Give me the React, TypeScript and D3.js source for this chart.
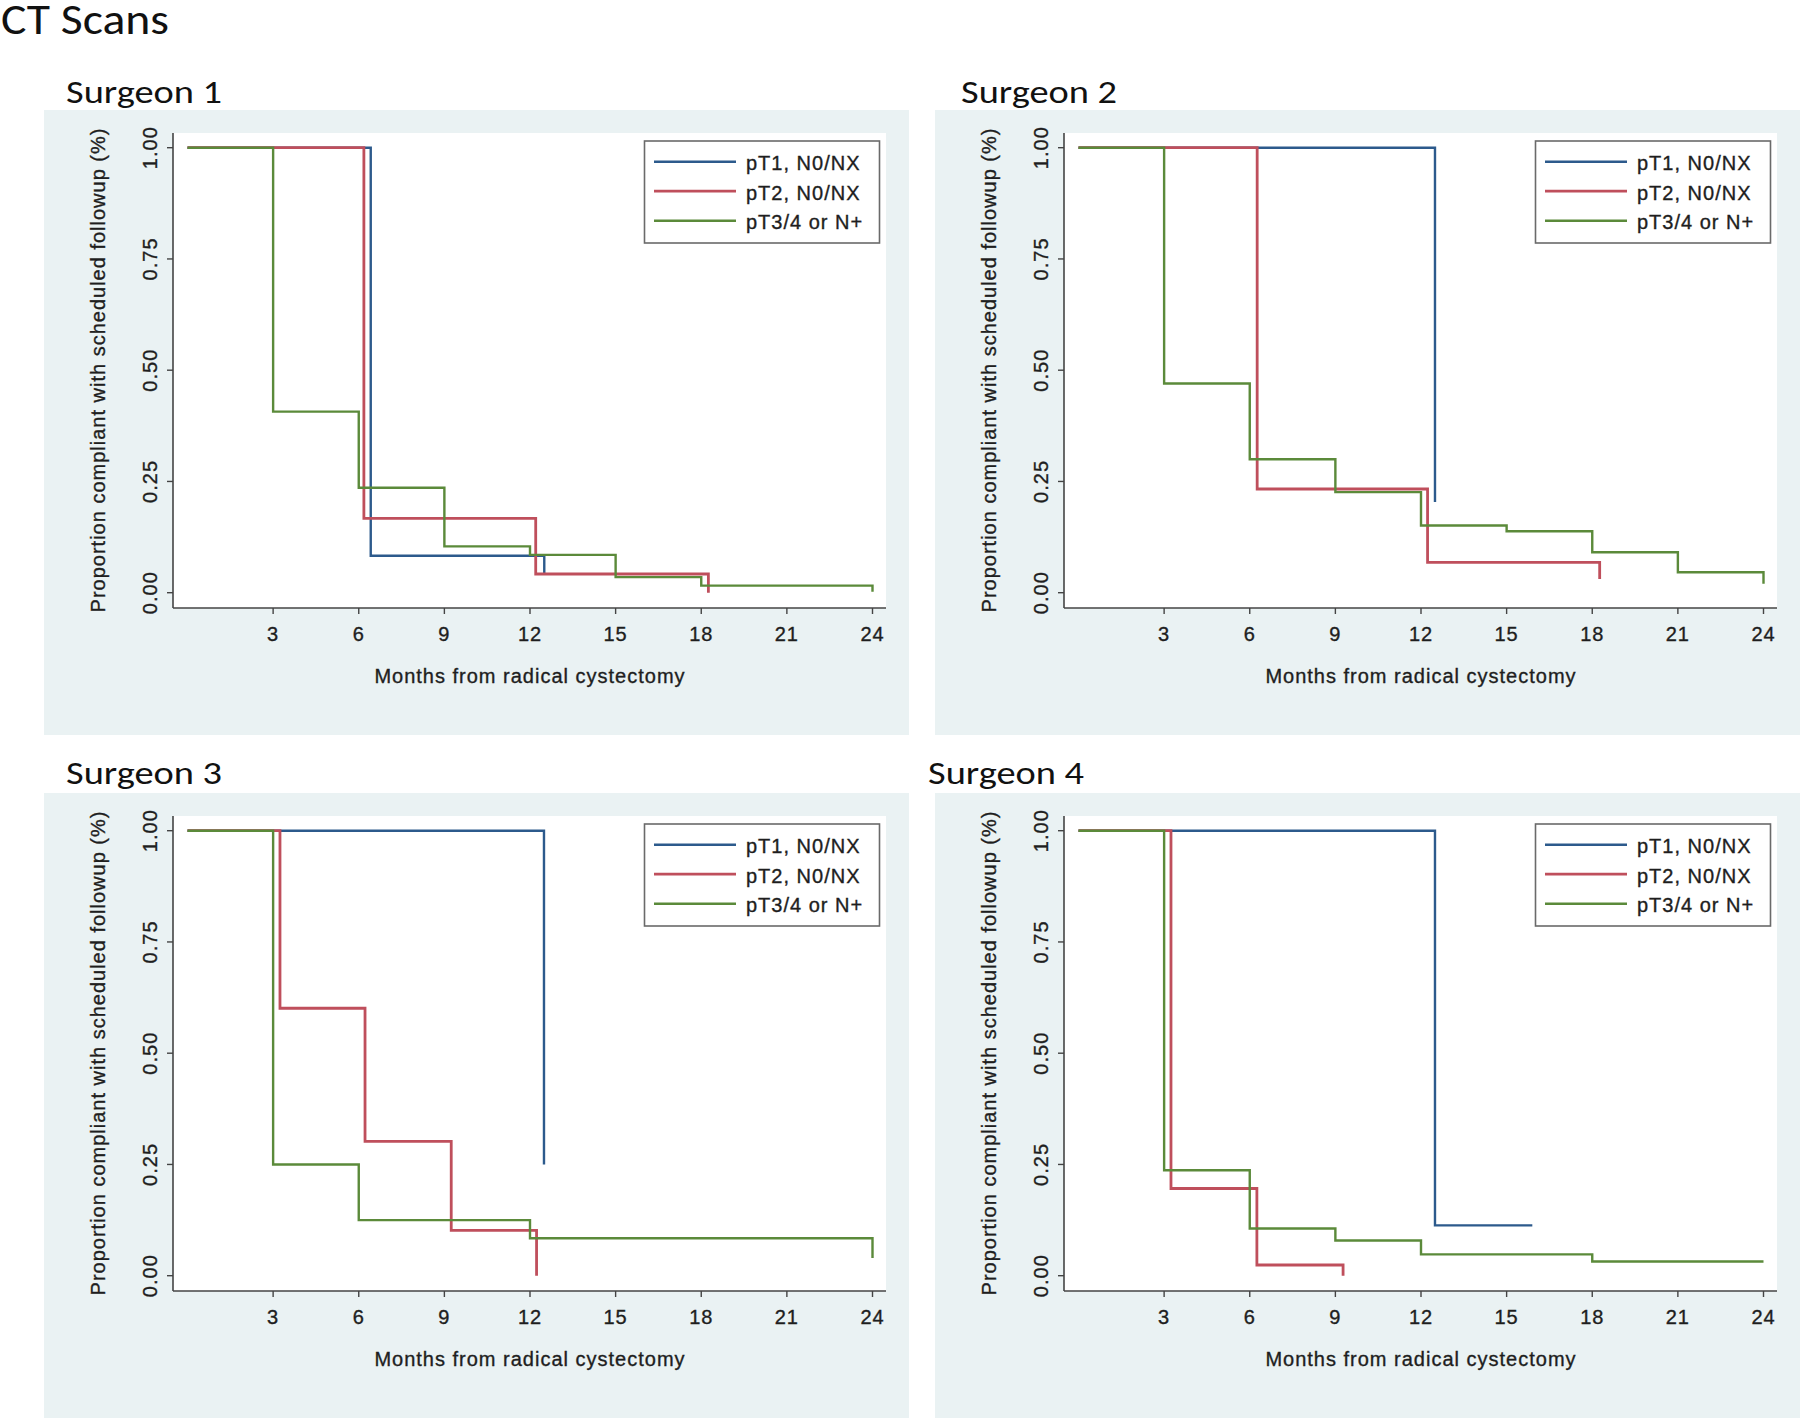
import React from "react";
import * as d3 from "d3";

// ---------- data ----------
const seriesNames = ["pT1, N0/NX", "pT2, N0/NX", "pT3/4 or N+"];
const seriesColors = ["#2c5a8c", "#bf4f5c", "#5b8a3a"];
const panelTitles = ["Surgeon 1", "Surgeon 2", "Surgeon 3", "Surgeon 4"];
const xTicks = [3, 6, 9, 12, 15, 18, 21, 24];
const yTicks = [0, 0.25, 0.5, 0.75, 1];
const yTickLabels = ["0.00", "0.25", "0.50", "0.75", "1.00"];

// Surgeon 1
const s1T1Time = [0, 6.42, 12.5];
const s1T1Surv = [1, 0.083, 0.04];
const s1T2Time = [0, 6.18, 12.2, 18.25];
const s1T2Surv = [1, 0.167, 0.042, 0.0];
const s1T3Time = [0, 3, 6, 9, 12, 15, 18, 24];
const s1T3Surv = [1, 0.407, 0.236, 0.104, 0.085, 0.035, 0.016, 0.002];

// Surgeon 2
const s2T1Time = [0, 12.49];
const s2T1Surv = [1, 0.204];
const s2T2Time = [0, 6.26, 12.23, 18.26];
const s2T2Surv = [1, 0.233, 0.068, 0.031];
const s2T3Time = [0, 3, 6, 9, 12, 15, 18, 21, 24];
const s2T3Surv = [1, 0.47, 0.3, 0.226, 0.151, 0.138, 0.091, 0.046, 0.02];

// Surgeon 3
const s3T1Time = [0, 12.49];
const s3T1Surv = [1, 0.25];
const s3T2Time = [0, 3.24, 6.22, 9.24, 12.23];
const s3T2Surv = [1, 0.601, 0.302, 0.102, 0.0];
const s3T3Time = [0, 3, 6, 12, 24];
const s3T3Surv = [1, 0.25, 0.125, 0.084, 0.04];

// Surgeon 4
const s4T1Time = [0, 12.49, 15.9];
const s4T1Surv = [1, 0.113, 0.113];
const s4T2Time = [0, 3.24, 6.25, 9.27];
const s4T2Surv = [1, 0.196, 0.024, 0.0];
const s4T3Time = [0, 3, 6, 9, 12, 18, 24];
const s4T3Surv = [1, 0.237, 0.106, 0.079, 0.048, 0.032, 0.032];

const panelData = [
  [[s1T1Time, s1T1Surv], [s1T2Time, s1T2Surv], [s1T3Time, s1T3Surv]],
  [[s2T1Time, s2T1Surv], [s2T2Time, s2T2Surv], [s2T3Time, s2T3Surv]],
  [[s3T1Time, s3T1Surv], [s3T2Time, s3T2Surv], [s3T3Time, s3T3Surv]],
  [[s4T1Time, s4T1Surv], [s4T2Time, s4T2Surv], [s4T3Time, s4T3Surv]],
];

// ---------- layout ----------
const panelOffsets = [
  { dx: 0, dy: 0, tx: 66, ty: 103 },
  { dx: 891, dy: 0, tx: 961, ty: 103 },
  { dx: 0, dy: 683, tx: 66, ty: 784 },
  { dx: 891, dy: 683, tx: 928, ty: 784 },
];

const AX = "Liberation Sans, Arial, sans-serif";
const TITLEF = "Carlito, Lato, sans-serif";
const TXT = "#1e1e1e";
const textStroke = { stroke: "#1e1e1e", strokeWidth: 0.35 };

function Panel({ idx }: { idx: number }) {
  const off = panelOffsets[idx];
  const x = d3.scaleLinear().domain([0, 24]).range([187.5, 872.5]);
  const y = d3.scaleLinear().domain([0, 1]).range([592.7, 147.7]);
  const line = d3
    .line<[number, number]>()
    .x((d) => x(d[0]))
    .y((d) => y(d[1]))
    .curve(d3.curveStepAfter);
  const plotL = 173,
    plotR = 886,
    plotT = 133,
    plotB = 608;
  const bgR = Math.min(909 + off.dx, 1800) - off.dx;
  const series = panelData[idx];
  return (
    <g>
      <text
        x={off.tx}
        y={off.ty}
        fontFamily={TITLEF}
        fontSize={33}
        fill="#111"
        textLength={156}
        lengthAdjust="spacingAndGlyphs"
      >
        {panelTitles[idx]}
      </text>
      <g transform={`translate(${off.dx},${off.dy})`}>
        <rect x={44} y={110} width={bgR - 44} height={625} fill="#eaf2f3" />
        <rect x={plotL} y={plotT} width={plotR - plotL} height={plotB - plotT} fill="#ffffff" />
        {/* series */}
        {series.map((s, i) => {
          const pts = s[0].map((t, k) => [t, s[1][k]] as [number, number]);
          return (
            <path
              key={i}
              d={line(pts) || ""}
              fill="none"
              stroke={seriesColors[i]}
              strokeWidth={i === 1 ? 2.8 : 2.4}
            />
          );
        })}
        {/* axes */}
        <line x1={plotL} x2={plotL} y1={plotT} y2={plotB} stroke="#444" strokeWidth={1.6} />
        <line x1={plotL} x2={plotR} y1={plotB} y2={plotB} stroke="#444" strokeWidth={1.6} />
        {yTicks.map((v, i) => (
          <g key={v}>
            <line x1={plotL - 6} x2={plotL} y1={y(v)} y2={y(v)} stroke="#444" strokeWidth={1.4} />
            <text
              transform={`translate(157,${y(v)}) rotate(-90)`}
              textAnchor="middle"
              fontFamily={AX}
              fontSize={20}
              letterSpacing={1}
              fill={TXT}
              {...textStroke}
            >
              {yTickLabels[i]}
            </text>
          </g>
        ))}
        {xTicks.map((v) => (
          <g key={v}>
            <line x1={x(v)} x2={x(v)} y1={plotB} y2={plotB + 6} stroke="#444" strokeWidth={1.4} />
            <text
              x={x(v)}
              y={641}
              textAnchor="middle"
              fontFamily={AX}
              fontSize={20}
              letterSpacing={1}
              fill={TXT}
              {...textStroke}
            >
              {v}
            </text>
          </g>
        ))}
        <text
          x={530}
          y={683}
          textAnchor="middle"
          fontFamily={AX}
          fontSize={20}
          letterSpacing={1}
          fill={TXT}
          {...textStroke}
        >
          Months from radical cystectomy
        </text>
        <text
          transform={`translate(105,370) rotate(-90)`}
          textAnchor="middle"
          fontFamily={AX}
          fontSize={20}
          letterSpacing={1}
          fill={TXT}
          {...textStroke}
        >
          Proportion compliant with scheduled followup (%)
        </text>
        {/* legend */}
        <rect x={644.5} y={141} width={235} height={102} fill="#ffffff" stroke="#6a6a6a" strokeWidth={1.6} />
        {seriesNames.map((n, i) => {
          const ly = 161.7 + i * 29.5;
          return (
            <g key={n}>
              <line x1={654} x2={736} y1={ly} y2={ly} stroke={seriesColors[i]} strokeWidth={i === 1 ? 2.8 : 2.4} />
              <text x={746} y={ly + 8.5} fontFamily={AX} fontSize={20} letterSpacing={1} fill={TXT} {...textStroke}>
                {n}
              </text>
            </g>
          );
        })}
      </g>
    </g>
  );
}

export default function App() {
  return (
    <svg
      width={1800}
      height={1420}
      style={{ position: "absolute", left: 0, top: 0, background: "#ffffff" }}
    >
      <rect x={0} y={0} width={1800} height={1420} fill="#ffffff" />
      <text
        x={1}
        y={34}
        fontFamily={TITLEF}
        fontSize={43}
        fill="#111"
        textLength={168}
        lengthAdjust="spacingAndGlyphs"
      >
        CT Scans
      </text>
      {[0, 1, 2, 3].map((i) => (
        <Panel key={i} idx={i} />
      ))}
    </svg>
  );
}
